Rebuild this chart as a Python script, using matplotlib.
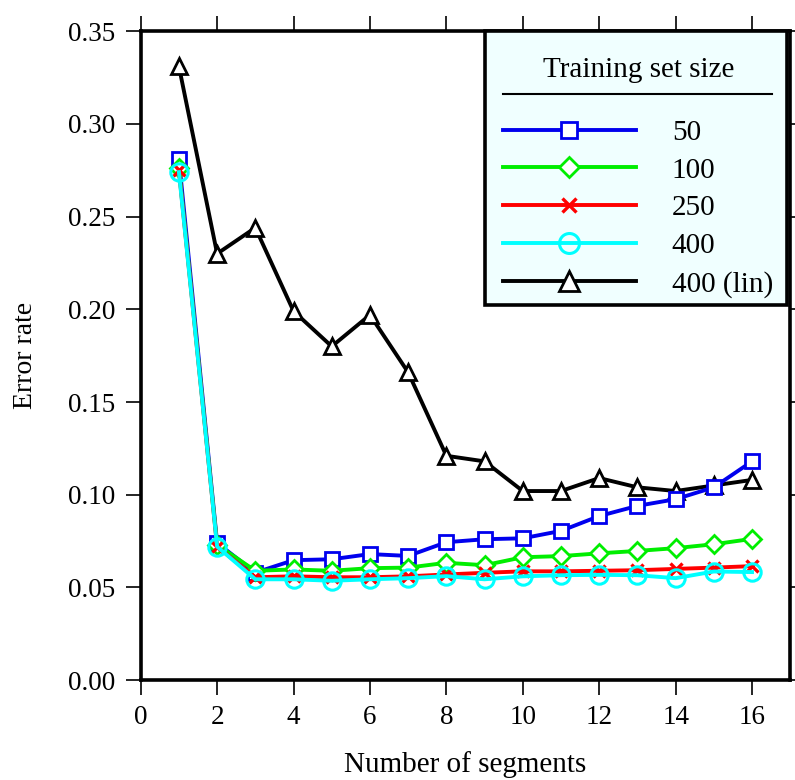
import numpy as np
import matplotlib.pyplot as plt
from matplotlib.lines import Line2D
from matplotlib.patches import Rectangle

plt.rcParams['font.family'] = ['Liberation Serif', 'DejaVu Serif']

# ------------------- data -------------------
segments = np.arange(1, 17)
err_50 = [0.281, 0.074, 0.058, 0.0647, 0.0652, 0.068, 0.067, 0.0744, 0.076, 0.0765,
          0.0805, 0.0885, 0.094, 0.0976, 0.104, 0.118]
err_100 = [0.276, 0.073, 0.059, 0.0597, 0.059, 0.0604, 0.0607, 0.0633, 0.062, 0.0663,
           0.0669, 0.0684, 0.0697, 0.0712, 0.0733, 0.0762]
err_250 = [0.275, 0.072, 0.0555, 0.056, 0.0555, 0.0555, 0.056, 0.057, 0.0579, 0.0587,
           0.0587, 0.059, 0.0593, 0.060, 0.0607, 0.0615]
err_400 = [0.274, 0.072, 0.0544, 0.0544, 0.0536, 0.0544, 0.055, 0.0561, 0.0544, 0.056,
           0.0566, 0.0568, 0.0566, 0.055, 0.0586, 0.0583]
err_400_lin = [0.331, 0.230, 0.244, 0.199, 0.180, 0.197, 0.166, 0.121, 0.118, 0.102,
               0.102, 0.109, 0.104, 0.102, 0.105, 0.108]

fig = plt.figure(figsize=(7.95, 7.8), dpi=100)
ax = fig.add_axes([0.177, 0.128, 0.817, 0.832])

lw = 2.8
h50, = ax.plot(segments, err_50, color='#0000ee', lw=lw, marker='s', ms=9.5,
               mfc='white', mew=2.0, label='50', zorder=3)
h100, = ax.plot(segments, err_100, color='#00ee00', lw=lw, marker='D', ms=9,
                mfc='white', mew=2.0, label='100', zorder=4)
h400, = ax.plot(segments, err_400, color='cyan', lw=lw, marker='o', ms=12.5,
                mfc='none', mew=2.2, label='400', zorder=5)
h250, = ax.plot(segments, err_250, color='red', lw=lw, marker='x', ms=9,
                mew=2.4, label='250', zorder=4.5)
hlin, = ax.plot(segments, err_400_lin, color='black', lw=lw, marker='^', ms=12,
                mfc='white', mew=2.0, label='400 (lin)', zorder=2)

ax.set_xlim(0, 17)
ax.set_ylim(0, 0.35)
ax.set_xticks(np.arange(0, 17, 2))
ax.set_yticks(np.arange(0, 0.351, 0.05))
ax.set_yticklabels([f'{v:.2f}' for v in np.arange(0, 0.351, 0.05)])
ax.tick_params(direction='out', length=11, width=1.2, labelsize=19.5, pad=7,
               top=True, right=True)
for sp in ax.spines.values():
    sp.set_linewidth(2.6)

ax.set_xlabel('Number of segments', fontsize=21, labelpad=15)
ax.set_ylabel('Error rate', fontsize=20, labelpad=22)

# legend box with title and a rule under it
ax.add_patch(Rectangle((0.530, 0.578), 0.465, 0.422, transform=ax.transAxes,
                       facecolor='#f0ffff', edgecolor='black', lw=2.6,
                       zorder=10, clip_on=False))
ax.text(0.766, 0.940, 'Training set size', transform=ax.transAxes,
        ha='center', va='center', fontsize=21, zorder=11)
ax.add_line(Line2D([0.558, 0.972], [0.903, 0.903], transform=ax.transAxes,
                   color='black', lw=1.5, zorder=11, clip_on=False))

leg = ax.legend(handles=[h50, h100, h250, h400, hlin], loc='upper left',
                bbox_to_anchor=(0.558, 0.864), fontsize=21, handlelength=4.55,
                handletextpad=1.23, labelspacing=0.39, borderpad=0,
                borderaxespad=0, frameon=False, markerscale=1.15)
leg.set_zorder(12)

fig.savefig('out.png', dpi=100)
